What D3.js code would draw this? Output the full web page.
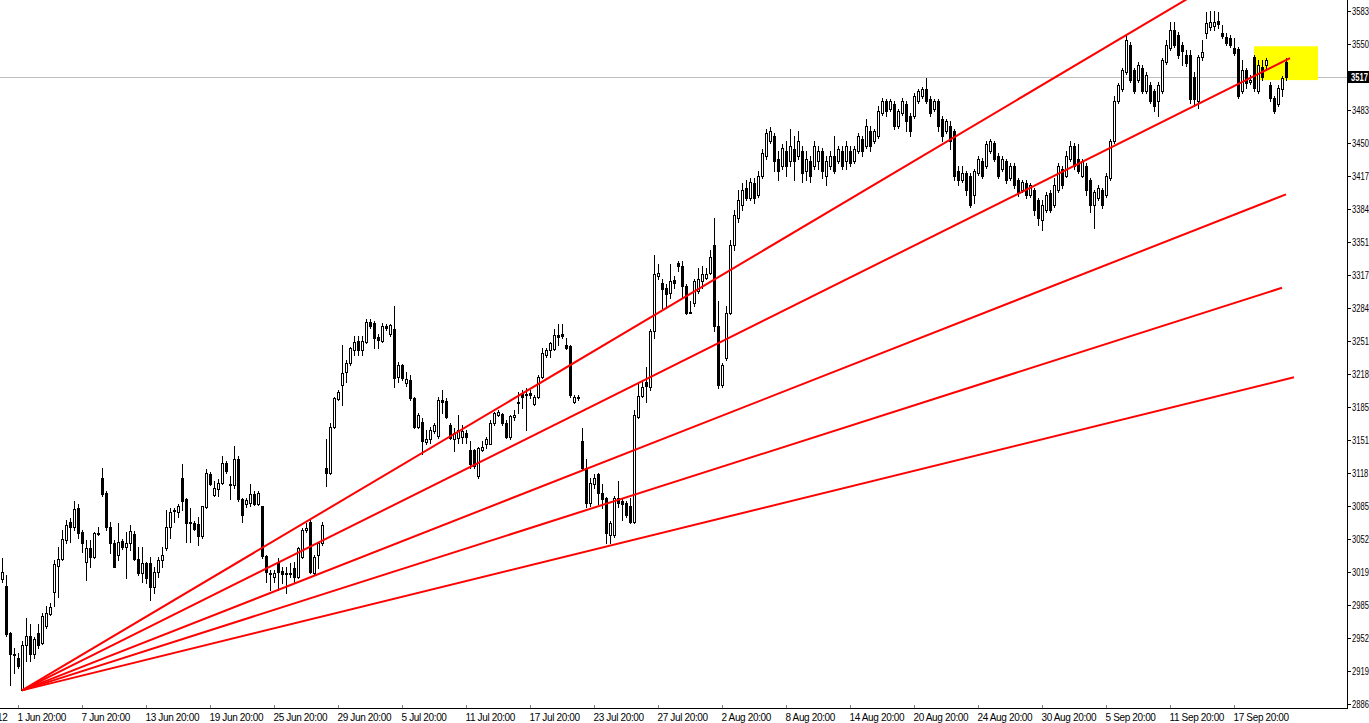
<!DOCTYPE html>
<html><head><meta charset="utf-8">
<script src="https://cdn.jsdelivr.net/npm/d3@7"></script>
<style>html,body{margin:0;padding:0;background:#fff;overflow:hidden}</style>
</head><body><svg id="c" width="1369" height="723"></svg>
<script>
// OHLC per bar (bar index = position on chart)
const open=[3012,3005,2958,2937,2933,2900,2946,2955,2937,2958,2948,2965,2977,2999,3025,3032,3051,3069,3064,3083,3059,3029,3043,3034,3058,3114,3099,3064,3048,3036,3050,3044,3048,3057,3032,3018,3028,3028,3004,3019,3031,3043,3064,3080,3079,3114,3093,3069,3068,3067,3055,3084,3118,3097,3103,3109,3129,3108,3107,3133,3093,3088,3089,3098,3088,3085,3035,3018,3014,3029,3020,3018,3018,3023,3014,3034,3061,3069,3018,3036,3048,3124,3119,3165,3193,3207,3220,3229,3242,3251,3242,3250,3271,3270,3256,3252,3267,3259,3264,3215,3227,3209,3212,3194,3165,3170,3150,3153,3161,3156,3192,3191,3167,3153,3154,3155,3159,3142,3142,3116,3142,3148,3148,3169,3177,3178,3169,3155,3175,3189,3199,3198,3199,3188,3195,3215,3237,3242,3243,3258,3259,3247,3246,3190,3194,3151,3124,3089,3108,3118,3099,3094,3056,3056,3094,3091,3089,3086,3069,3175,3196,3210,3205,3262,3317,3310,3305,3300,3313,3330,3327,3307,3281,3290,3302,3312,3315,3320,3348,3267,3207,3234,3280,3348,3375,3388,3405,3395,3410,3398,3418,3438,3453,3458,3435,3428,3443,3433,3445,3438,3443,3423,3433,3428,3433,3443,3418,3428,3438,3433,3443,3433,3443,3433,3443,3455,3448,3463,3453,3458,3481,3493,3485,3490,3468,3481,3490,3478,3478,3493,3498,3505,3495,3485,3493,3475,3463,3468,3463,3423,3413,3421,3418,3398,3421,3433,3428,3443,3451,3438,3425,3433,3415,3428,3413,3403,3410,3398,3403,3393,3373,3383,3400,3388,3403,3425,3418,3435,3448,3435,3418,3428,3413,3388,3395,3403,3398,3415,3453,3493,3505,3522,3549,3524,3514,3526,3503,3509,3503,3493,3503,3532,3546,3564,3559,3549,3539,3539,3517,3493,3537,3561,3567,3568,3573,3561,3557,3556,3546,3545,3503,3524,3512,3537,3503,3527,3529,3509,3496,3490,3505,3532];
const high=[3033,3016,2959,2943,2938,2950,2973,2967,2954,2967,2978,2985,2988,3031,3044,3061,3071,3073,3091,3088,3061,3051,3051,3059,3064,3124,3101,3069,3051,3068,3052,3059,3066,3060,3044,3044,3029,3034,3024,3034,3044,3081,3083,3083,3088,3128,3094,3083,3070,3074,3086,3123,3120,3111,3113,3136,3131,3116,3146,3136,3094,3094,3108,3101,3101,3086,3036,3021,3021,3033,3024,3024,3028,3029,3044,3063,3068,3071,3036,3049,3069,3153,3169,3195,3202,3247,3232,3245,3257,3257,3257,3274,3274,3272,3259,3270,3269,3269,3287,3230,3228,3220,3217,3195,3179,3174,3162,3165,3169,3195,3202,3194,3169,3164,3177,3167,3162,3151,3143,3145,3151,3155,3172,3180,3182,3179,3172,3177,3182,3200,3202,3204,3202,3197,3217,3244,3244,3250,3264,3269,3269,3255,3247,3197,3197,3164,3133,3114,3118,3119,3108,3095,3070,3096,3111,3093,3091,3094,3182,3209,3210,3225,3264,3338,3329,3314,3309,3329,3317,3332,3332,3309,3292,3314,3325,3327,3325,3343,3375,3292,3229,3287,3353,3383,3403,3410,3413,3415,3415,3423,3445,3465,3467,3461,3443,3450,3453,3465,3458,3463,3448,3443,3438,3453,3448,3446,3438,3443,3458,3448,3448,3453,3448,3448,3461,3458,3475,3468,3465,3488,3496,3495,3495,3493,3485,3496,3493,3481,3501,3505,3507,3516,3498,3495,3495,3478,3475,3473,3465,3428,3428,3423,3421,3425,3438,3436,3453,3455,3453,3441,3438,3435,3431,3431,3415,3413,3413,3410,3405,3395,3393,3401,3403,3415,3431,3428,3443,3453,3451,3450,3435,3431,3415,3403,3408,3405,3421,3455,3498,3511,3526,3559,3552,3526,3532,3529,3522,3512,3505,3512,3536,3554,3572,3572,3562,3552,3544,3544,3522,3539,3554,3582,3584,3584,3582,3569,3561,3559,3556,3547,3534,3526,3519,3539,3534,3534,3536,3512,3498,3509,3518,3536];
const low=[3009,2955,2905,2917,2923,2900,2930,2930,2933,2943,2947,2963,2976,2985,2994,3031,3048,3049,3061,3053,3039,3011,3024,3033,3056,3096,3061,3038,3024,3031,3042,3013,3041,3031,3016,3009,3008,2991,2998,3014,3024,3041,3053,3069,3074,3081,3049,3049,3061,3046,3053,3083,3107,3096,3096,3108,3119,3093,3104,3091,3069,3084,3086,3087,3087,3033,3009,3001,3009,3001,3008,2998,3014,3008,3013,3033,3059,3018,3016,3023,3046,3106,3118,3164,3192,3187,3210,3227,3237,3237,3237,3249,3265,3244,3244,3250,3263,3257,3205,3210,3212,3206,3192,3164,3164,3138,3148,3149,3159,3154,3179,3174,3153,3141,3149,3149,3149,3124,3124,3114,3141,3144,3148,3167,3176,3167,3154,3153,3172,3179,3184,3162,3194,3187,3194,3214,3235,3235,3242,3247,3255,3243,3195,3189,3192,3123,3084,3086,3104,3088,3083,3048,3048,3054,3084,3071,3074,3068,3068,3174,3195,3190,3202,3255,3314,3285,3285,3295,3305,3322,3295,3279,3280,3287,3300,3305,3314,3319,3262,3204,3205,3232,3279,3343,3371,3383,3393,3393,3390,3396,3415,3435,3451,3423,3413,3425,3418,3428,3413,3435,3411,3413,3411,3425,3425,3415,3408,3425,3421,3431,3425,3425,3428,3431,3441,3438,3446,3443,3451,3456,3479,3478,3483,3465,3466,3479,3463,3458,3476,3491,3496,3491,3478,3483,3463,3453,3461,3445,3413,3408,3411,3398,3386,3390,3419,3415,3426,3441,3433,3415,3423,3410,3413,3405,3397,3401,3395,3396,3378,3368,3363,3381,3381,3386,3401,3405,3416,3433,3425,3421,3416,3398,3381,3365,3393,3385,3396,3413,3451,3491,3503,3520,3512,3501,3512,3501,3501,3491,3483,3478,3501,3530,3544,3547,3536,3529,3528,3491,3488,3486,3534,3556,3564,3564,3566,3556,3549,3547,3539,3496,3501,3506,3510,3503,3501,3514,3524,3493,3481,3488,3498,3514];
const close=[3019,2957,2937,2936,2925,2946,2955,2937,2952,2946,2975,2978,2984,3027,3032,3052,3066,3064,3082,3058,3048,3043,3034,3058,3057,3098,3064,3048,3024,3049,3044,3048,3060,3032,3018,3028,3013,3004,3019,3031,3036,3064,3079,3081,3086,3091,3068,3068,3062,3055,3085,3119,3108,3104,3109,3129,3121,3107,3133,3093,3076,3092,3098,3088,3099,3035,3019,3017,3018,3019,3017,3017,3017,3014,3043,3061,3063,3019,3034,3048,3066,3119,3165,3194,3200,3219,3229,3244,3250,3242,3251,3271,3267,3255,3253,3267,3265,3268,3214,3227,3214,3213,3194,3165,3177,3151,3153,3162,3167,3192,3190,3175,3154,3159,3162,3161,3155,3128,3126,3144,3145,3153,3169,3179,3180,3169,3155,3176,3177,3190,3195,3197,3197,3195,3215,3239,3242,3249,3258,3256,3257,3244,3197,3195,3195,3124,3089,3109,3114,3099,3093,3058,3068,3094,3089,3088,3076,3069,3177,3196,3205,3206,3262,3319,3320,3304,3299,3312,3310,3327,3307,3280,3280,3312,3314,3319,3319,3336,3267,3207,3227,3280,3348,3378,3393,3403,3395,3411,3395,3418,3441,3461,3463,3433,3423,3446,3428,3448,3433,3453,3421,3435,3418,3448,3443,3423,3433,3438,3423,3445,3428,3448,3431,3445,3458,3443,3468,3448,3463,3483,3493,3483,3493,3468,3483,3493,3473,3463,3498,3503,3505,3493,3481,3493,3468,3458,3473,3453,3418,3413,3421,3403,3388,3423,3435,3418,3450,3453,3435,3418,3435,3413,3428,3408,3401,3411,3398,3408,3383,3375,3388,3398,3383,3408,3428,3408,3438,3448,3428,3423,3433,3403,3388,3401,3405,3388,3418,3453,3493,3509,3524,3554,3514,3503,3529,3503,3519,3493,3488,3509,3534,3549,3564,3549,3539,3543,3531,3495,3495,3537,3542,3571,3572,3572,3570,3558,3551,3549,3541,3498,3524,3511,3514,3506,3529,3517,3534,3496,3483,3506,3516,3517];

// time axis labels and the bar each sits on
const timeLabels=["31 May 2012","1 Jun 20:00","7 Jun 20:00","13 Jun 20:00","19 Jun 20:00","25 Jun 20:00","29 Jun 20:00","5 Jul 20:00","11 Jul 20:00","17 Jul 20:00","23 Jul 20:00","27 Jul 20:00","2 Aug 20:00","8 Aug 20:00","14 Aug 20:00","20 Aug 20:00","24 Aug 20:00","30 Aug 20:00","5 Sep 20:00","11 Sep 20:00","17 Sep 20:00"];
const timeLabelBars=[-12,4,20,36,52,68,84,100,116,132,148,164,180,196,212,228,244,260,276,292,308];

// price axis ticks
const priceTicks=[2886.3,2919.5,2952.7,2985.9,3019.1,3052.3,3085.5,3118.7,3151.9,3185.1,3218.3,3251.5,3284.7,3317.9,3351.1,3384.3,3417.5,3450.7,3483.9,3517.1,3550.3,3583.5];

// fan of trend lines: common start, individual ends
const fanStartBar=5, fanStartPrice=2900;
const fanEndBars=[322,322,321,320,323];
const fanEndPrices=[3657,3536,3399,3305,3215];

// highlighted rectangle
const rectBars=[313,329];
const rectPrices=[3548,3514];

const W=1369,H=723, plotR=1347, plotB=708;
const svg=d3.select("#c");
const x=d3.scaleLinear().domain([0,321]).range([2,1286]);
const y=d3.scaleLinear().domain([2886.3,3583.5]).range([704,11]);
const font="'Liberation Sans', Arial, sans-serif";

svg.append("defs").append("clipPath").attr("id","pc").append("rect")
  .attr("x",0).attr("y",0).attr("width",plotR).attr("height",plotB);

const last=close[close.length-1];
// yellow rectangle
svg.append("rect").attr("x",x(rectBars[0])).attr("y",y(rectPrices[0]))
  .attr("width",x(rectBars[1])-x(rectBars[0])).attr("height",y(rectPrices[1])-y(rectPrices[0]))
  .attr("fill","#ffff00");
// current price line
const yc=Math.round(y(last))+0.5;
svg.append("line").attr("x1",0).attr("x2",x(rectBars[0])).attr("y1",yc).attr("y2",yc)
  .attr("stroke","#c0c0c0").attr("shape-rendering","crispEdges");
svg.append("line").attr("x1",x(rectBars[1])).attr("x2",plotR).attr("y1",yc).attr("y2",yc)
  .attr("stroke","#c0c0c0").attr("shape-rendering","crispEdges");

// candles
const bars=d3.range(open.length).map(i=>({i,o:open[i],h:high[i],l:low[i],c:close[i]}));
const g=svg.append("g").attr("clip-path","url(#pc)");
const cg=g.selectAll("g.k").data(bars).join("g").attr("class","k");
cg.append("line")
  .attr("x1",d=>Math.round(x(d.i))+0.5).attr("x2",d=>Math.round(x(d.i))+0.5)
  .attr("y1",d=>Math.round(y(d.h))).attr("y2",d=>Math.round(y(d.l))+1)
  .attr("stroke","#000").attr("shape-rendering","crispEdges");
cg.append("rect")
  .attr("x",d=>Math.round(x(d.i))-1+0.5)
  .attr("y",d=>Math.round(y(Math.max(d.o,d.c)))+0.5)
  .attr("width",2)
  .attr("height",d=>Math.max(0,Math.round(y(Math.min(d.o,d.c)))-Math.round(y(Math.max(d.o,d.c)))))
  .attr("fill",d=>d.c>=d.o?"#fff":"#000").attr("stroke","#000").attr("stroke-width",1)
  .attr("shape-rendering","crispEdges");

// fan lines
fanEndBars.forEach((b,k)=>{
  g.append("line").attr("x1",x(fanStartBar)).attr("y1",y(fanStartPrice))
   .attr("x2",x(b)).attr("y2",y(fanEndPrices[k]))
   .attr("stroke","#ff0000").attr("stroke-width",2);
});

// axes frame
svg.append("line").attr("x1",0).attr("x2",plotR+1).attr("y1",plotB+0.5).attr("y2",plotB+0.5)
  .attr("stroke","#000").attr("shape-rendering","crispEdges");
svg.append("line").attr("x1",plotR+0.5).attr("x2",plotR+0.5).attr("y1",0).attr("y2",plotB+1)
  .attr("stroke","#000").attr("shape-rendering","crispEdges");

// price axis (narrow labels so four digits fit the strip)
const pt=svg.append("g");
const fmt=v=>String(Math.floor(v));
priceTicks.forEach(v=>{
  const yy=Math.round(y(v))+0.5;
  pt.append("line").attr("x1",plotR+1).attr("x2",plotR+4).attr("y1",yy).attr("y2",yy)
    .attr("stroke","#000").attr("shape-rendering","crispEdges");
  pt.append("text").attr("transform",`translate(${plotR+5},${yy+3.5}) scale(0.76,1)`).text(fmt(v))
    .attr("font-family",font).attr("font-size","10px").attr("fill","#000");
});
// current price label
svg.append("rect").attr("x",plotR+1).attr("y",yc-6.5).attr("width",W-plotR).attr("height",12).attr("fill","#000");
svg.append("text").attr("transform",`translate(${plotR+4},${yc+3.5}) scale(0.76,1)`).text(fmt(last))
  .attr("font-family",font).attr("font-size","10px").attr("font-weight","bold").attr("fill","#fff");

// time axis
const tg=svg.append("g");
timeLabels.forEach((t,k)=>{
  const xx=Math.round(x(timeLabelBars[k]))+0.5;
  tg.append("line").attr("x1",xx).attr("x2",xx).attr("y1",plotB-3).attr("y2",plotB)
    .attr("stroke","#808080").attr("shape-rendering","crispEdges");
  tg.append("text").attr("x",xx-1).attr("y",721).text(t)
    .attr("font-family",font).attr("font-size","10px").attr("letter-spacing","-0.35px").attr("fill","#000");
});
</script></body></html>
